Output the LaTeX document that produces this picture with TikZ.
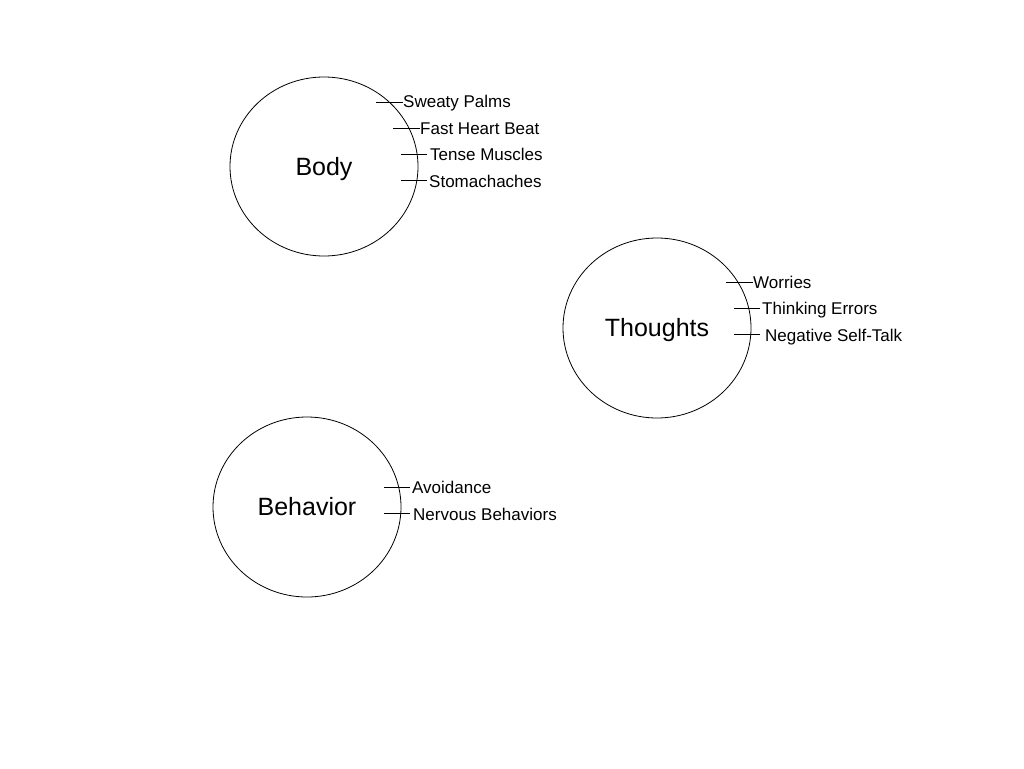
\documentclass[tikz,border=0pt]{standalone}
\usepackage{fontspec}
\setmainfont{Liberation Sans}
\usetikzlibrary{shapes.geometric}
\begin{document}
\begin{tikzpicture}[x=1pt,y=-1pt,
  group/.style={ellipse,draw=black,line width=0.8pt,inner sep=0pt,text height=17.9pt,text depth=0pt,font=\fontsize{25}{28}\selectfont},
  lbl/.style={anchor=west,inner sep=0pt,text height=12.2pt,text depth=0pt,font=\fontsize{17}{19}\selectfont},
  tick/.style={draw=black,line width=0.8pt}]
\useasboundingbox (0,0) rectangle (1024,768);
% groups
\node[group,minimum width=188pt,minimum height=179pt] (body) at (324,166.5) {Body};
\node[group,minimum width=188pt,minimum height=180pt] (thoughts) at (657,328) {Thoughts};
\node[group,minimum width=188pt,minimum height=180pt] (behavior) at (307,507) {Behavior};
% body labels
\node[lbl] (sweaty) at (403,101) {Sweaty Palms};
\node[lbl] (heart) at (420,128) {Fast Heart Beat};
\node[lbl] (tense) at (430,154) {Tense Muscles};
\node[lbl] (stomach) at (429,181) {Stomachaches};
\coordinate (t1) at (376,102);
\coordinate (t2) at (393,128);
\coordinate (t3) at (401,154);
\coordinate (t4) at (401,180);
\draw[tick] (t1) -- (sweaty.west|-t1);
\draw[tick] (t2) -- (heart.west|-t2);
\draw[tick] (t3) -- ([xshift=-3pt]tense.west|-t3);
\draw[tick] (t4) -- ([xshift=-2pt]stomach.west|-t4);
% thoughts labels
\node[lbl] (worries) at (753,282) {Worries};
\node[lbl] (errors) at (762,308) {Thinking Errors};
\node[lbl] (selftalk) at (765,335) {Negative Self-Talk};
\coordinate (t5) at (726,282);
\coordinate (t6) at (734,308);
\coordinate (t7) at (734,334);
\draw[tick] (t5) -- (worries.west|-t5);
\draw[tick] (t6) -- ([xshift=-2pt]errors.west|-t6);
\draw[tick] (t7) -- ([xshift=-5pt]selftalk.west|-t7);
% behavior labels
\node[lbl] (avoid) at (412,487) {Avoidance};
\node[lbl] (nervous) at (413,514) {Nervous Behaviors};
\coordinate (t8) at (384,487);
\coordinate (t9) at (384,513);
\draw[tick] (t8) -- ([xshift=-2pt]avoid.west|-t8);
\draw[tick] (t9) -- ([xshift=-3pt]nervous.west|-t9);
\end{tikzpicture}
\end{document}
